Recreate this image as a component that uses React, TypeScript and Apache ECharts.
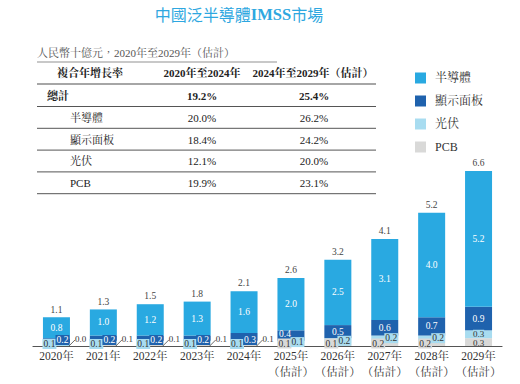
import React, { useEffect, useRef } from 'react';
import * as echarts from 'echarts';

// ---------- data ----------
const categories = [
  '2020年', '2021年', '2022年', '2023年', '2024年',
  '2025年\n（估計）', '2026年\n（估計）', '2027年\n（估計）', '2028年\n（估計）', '2029年\n（估計）',
];
const seriesNames = ['半導體', '顯示面板', '光伏', 'PCB'];
const semiconductor = [0.8, 1.0, 1.2, 1.3, 1.6, 2.0, 2.5, 3.1, 4.0, 5.2];
const displayPanel = [0.2, 0.2, 0.2, 0.2, 0.3, 0.4, 0.5, 0.6, 0.7, 0.9];
const photovoltaic = [0.1, 0.1, 0.1, 0.1, 0.1, 0.1, 0.2, 0.2, 0.2, 0.3];
const pcb = [0.0, 0.1, 0.1, 0.1, 0.1, 0.1, 0.1, 0.2, 0.2, 0.3];
const totals = [1.1, 1.3, 1.5, 1.8, 2.1, 2.6, 3.2, 4.1, 5.2, 6.6];

const titleParts = ['中國泛半導體', 'IMSS', '市場'];
const tableCaption = '人民幣十億元，2020年至2029年（估計）';
const tableHeader = ['複合年增長率', '2020年至2024年', '2024年至2029年（估計）'];
const tableRows = ['總計', '半導體', '顯示面板', '光伏', 'PCB'];
const cagr2020to2024 = ['19.2%', '20.0%', '18.4%', '12.1%', '19.9%'];
const cagr2024to2029 = ['25.4%', '26.2%', '24.2%', '20.0%', '23.1%'];

// ---------- style ----------
const C_SEMI = '#29a9e1';
const C_DISP = '#1f62ad';
const C_PV = '#a8dcf0';
const C_PCB = '#d9d9d8';
const FONT = "'Liberation Serif','Noto Serif CJK TC','Noto Sans CJK TC',serif";
const W = 520;
const H = 384;
const GRID = { left: 33, right: 18, top: 171, bottom: 38 };
const BASE = H - GRID.bottom;
const BAR_W = 27;
const LEADER_COUNT = 5; // years whose small labels sit outside the bar
const BOX_COUNT = 9;

const boxLabel = (bg: string, color: string) => ({
  show: true,
  backgroundColor: bg,
  color,
  padding: [1, 1, 0, 1],
  fontSize: 9.5,
  lineHeight: 9,
  fontFamily: FONT,
});

const fmt = (p: any) => Number(p.value).toFixed(1);

export default function App() {
  const ref = useRef<HTMLDivElement>(null);

  useEffect(() => {
    if (!ref.current) return;
    const chart = echarts.init(ref.current, undefined, { renderer: 'svg' });

    const rowY = (k: number) => 96 + k * 21.8;
    const lineY = (k: number) => 106.5 + k * 21.8;

    const graphic: any[] = [
      {
        type: 'text', x: 239, y: 14,
        style: {
          text: `{a|${titleParts[0]}}{b|${titleParts[1]}}{a|${titleParts[2]}}`,
          align: 'center', verticalAlign: 'middle',
          rich: {
            a: { fontSize: 16, fontWeight: 'normal', fontFamily: "'Noto Sans CJK TC',sans-serif", fill: '#2ea7e0', color: '#2ea7e0' },
            b: { fontSize: 16.5, fontWeight: 'bold', fontFamily: "'Liberation Serif',serif", fill: '#2ea7e0', color: '#2ea7e0' },
          },
          fill: '#2ea7e0',
        },
      },
      {
        type: 'text', x: 37, y: 53,
        style: { text: tableCaption, align: 'left', verticalAlign: 'middle', fontSize: 11, fontFamily: FONT, fill: '#555' },
      },
      { type: 'line', shape: { x1: 37, y1: 62, x2: 277, y2: 62 }, style: { stroke: '#c8c8c8', lineWidth: 2 } },
      {
        type: 'text', x: 57, y: 72.5,
        style: { text: tableHeader[0], align: 'left', verticalAlign: 'middle', fontSize: 11, fontWeight: 'bold', fontFamily: FONT, fill: '#222' },
      },
      {
        type: 'text', x: 202, y: 72.5,
        style: { text: tableHeader[1], align: 'center', verticalAlign: 'middle', fontSize: 11, fontWeight: 'bold', fontFamily: FONT, fill: '#222' },
      },
      {
        type: 'text', x: 313, y: 72.5,
        style: { text: tableHeader[2], align: 'center', verticalAlign: 'middle', fontSize: 11, fontWeight: 'bold', fontFamily: FONT, fill: '#222' },
      },
      { type: 'line', shape: { x1: 37, y1: 84, x2: 376, y2: 84 }, style: { stroke: '#888', lineWidth: 1.5 } },
    ];
    tableRows.forEach((name, k) => {
      const bold = k === 0 ? 'bold' : 'normal';
      graphic.push(
        {
          type: 'text', x: k === 0 ? 47 : 70, y: rowY(k),
          style: { text: name, align: 'left', verticalAlign: 'middle', fontSize: 11, fontWeight: bold, fontFamily: FONT, fill: '#222' },
        },
        {
          type: 'text', x: 202, y: rowY(k),
          style: { text: cagr2020to2024[k], align: 'center', verticalAlign: 'middle', fontSize: 11, fontWeight: bold, fontFamily: FONT, fill: '#222' },
        },
        {
          type: 'text', x: 314, y: rowY(k),
          style: { text: cagr2024to2029[k], align: 'center', verticalAlign: 'middle', fontSize: 11, fontWeight: bold, fontFamily: FONT, fill: '#222' },
        },
        { type: 'line', shape: { x1: 37, y1: lineY(k), x2: 376, y2: lineY(k) }, style: { stroke: '#555', lineWidth: 1 } },
      );
    });

    const common = {
      type: 'bar',
      stack: 'total',
      stackStrategy: 'all',
      barWidth: BAR_W,
    };

    const option: any = {
      animation: false,
      textStyle: { fontFamily: FONT },
      grid: GRID,
      legend: {
        data: seriesNames,
        orient: 'vertical',
        left: 410,
        top: 67,
        icon: 'rect',
        itemWidth: 11,
        itemHeight: 11,
        itemGap: 11,
        selectedMode: false,
        textStyle: { fontSize: 12, color: '#333', fontFamily: FONT, padding: [0, 0, 0, 4], lineHeight: 11 },
      },
      xAxis: {
        type: 'category',
        data: categories,
        axisLine: { lineStyle: { color: '#555', width: 1.2 } },
        axisTick: { show: false },
        axisLabel: { interval: 0, fontSize: 11.5, color: '#333', margin: 2, lineHeight: 16, fontFamily: FONT },
      },
      yAxis: { type: 'value', min: 0, max: 6.7, show: false, splitLine: { show: false } },
      graphic,
      series: [
        {
          ...common,
          name: 'PCB',
          itemStyle: { color: C_PCB },
          label: { ...boxLabel('transparent', '#333'), position: 'inside', formatter: fmt },
          data: pcb.map((v, i) => ({
            value: v,
            label:
              i < BOX_COUNT && i >= LEADER_COUNT
                ? { backgroundColor: C_PCB }
                : { backgroundColor: 'transparent', padding: 0, lineHeight: 8, fontSize: 9 },
          })),
          labelLayout: (p: any) => {
            const i = p.dataIndex;
            const r = p.rect;
            const cx = r.x + r.width / 2;
            if (i < LEADER_COUNT) return { x: r.x + r.width + 5, y: BASE - 7, align: 'left', verticalAlign: 'middle' };
            if (i < BOX_COUNT) return { x: cx - 6.5, y: BASE - 2.5, align: 'center', verticalAlign: 'middle' };
            return { x: cx, y: r.y + r.height / 2 + 0.5, align: 'center', verticalAlign: 'middle' };
          },
        },
        {
          ...common,
          name: '光伏',
          itemStyle: { color: C_PV },
          label: { ...boxLabel(C_PV, '#333'), position: 'inside', formatter: fmt },
          data: photovoltaic.map((v, i) => ({
            value: v,
            label: i < BOX_COUNT ? {} : { padding: 0, lineHeight: 8, fontSize: 9 },
          })),
          labelLayout: (p: any) => {
            const i = p.dataIndex;
            const r = p.rect;
            const cx = r.x + r.width / 2;
            if (i < LEADER_COUNT) return { x: cx - 7, y: BASE - 2, align: 'center', verticalAlign: 'middle' };
            if (i < BOX_COUNT) return { x: cx + 6.5, y: r.y + r.height / 2, align: 'center', verticalAlign: 'middle' };
            return { x: cx, y: r.y + r.height / 2 - 0.5, align: 'center', verticalAlign: 'middle' };
          },
        },
        {
          ...common,
          name: '顯示面板',
          itemStyle: { color: C_DISP },
          label: { ...boxLabel(C_DISP, '#fff'), position: 'inside', formatter: fmt },
          data: displayPanel.map((v, i) => ({
            value: v,
            label: i < LEADER_COUNT ? {} : { backgroundColor: 'transparent' },
          })),
          labelLayout: (p: any) => {
            const i = p.dataIndex;
            const r = p.rect;
            const cx = r.x + r.width / 2;
            if (i < LEADER_COUNT) return { x: cx + 6, y: BASE - 6, align: 'center', verticalAlign: 'middle' };
            if (i === LEADER_COUNT) return { x: cx - 6, y: r.y + r.height / 2 - 2, align: 'center', verticalAlign: 'middle' };
            return {};
          },
        },
        {
          ...common,
          name: '半導體',
          itemStyle: { color: C_SEMI },
          label: { show: true, position: 'inside', color: '#fff', fontSize: 9.5, fontFamily: FONT, formatter: fmt },
          data: semiconductor,
        },
        {
          ...common,
          name: 'total',
          itemStyle: { color: 'transparent' },
          label: {
            show: true,
            position: 'top',
            distance: 3,
            color: '#444',
            fontSize: 9.5,
            fontFamily: FONT,
            formatter: (p: any) => totals[p.dataIndex].toFixed(1),
          },
          data: totals.map(() => 0),
        },
        {
          type: 'custom',
          silent: true,
          z: 5,
          data: pcb.map((v, i) => [i, v]),
          renderItem: (params: any, api: any) => {
            const i = api.value(0);
            if (i >= LEADER_COUNT) return { type: 'group', children: [] };
            const base = api.coord([i, 0]);
            const right = base[0] + BAR_W / 2;
            return {
              type: 'line',
              shape: { x1: right - 1, y1: base[1], x2: right + 5, y2: base[1] - 6 },
              style: { stroke: '#444', lineWidth: 0.8 },
            };
          },
        },
      ],
    };

    chart.setOption(option);
    return () => chart.dispose();
  }, []);

  return (
    <div
      ref={ref}
      style={{ position: 'absolute', left: 0, top: 0, width: W, height: H, background: '#fff' }}
    />
  );
}
